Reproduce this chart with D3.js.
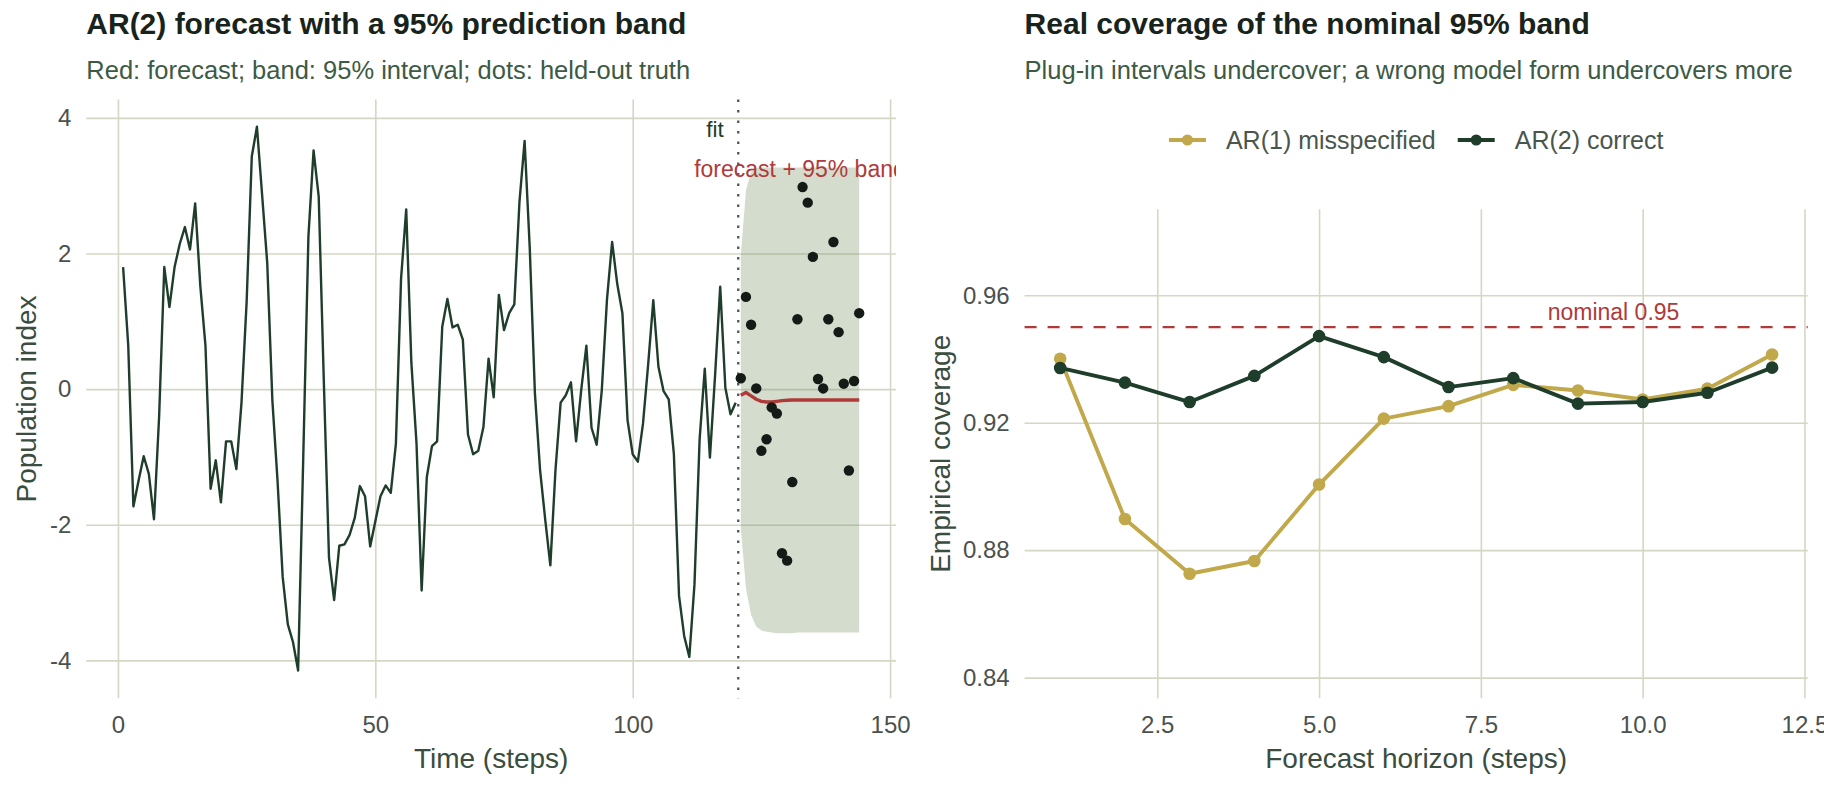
<!DOCTYPE html>
<html>
<head>
<meta charset="utf-8">
<script src="https://cdn.jsdelivr.net/npm/d3@7"></script>
<style>
  body { margin: 0; background: #ffffff; }
  svg text { font-family: "Liberation Sans", Arial, Helvetica, sans-serif; }
</style>
</head>
<body>
<svg id="chart" width="1824" height="787"></svg>
<script>
// observed series, steps 1..120
var seriesValues = [
   1.80,  0.64, -1.73, -1.35, -0.99, -1.25, -1.92, -0.40,  1.80,  1.21,
   1.80,  2.14,  2.39,  2.06,  2.74,  1.52,  0.64, -1.47, -1.05, -1.67,
  -0.77, -0.77, -1.18, -0.20,  1.29,  3.43,  3.87,  2.87,  1.86, -0.17,
  -1.35, -2.77, -3.47, -3.73, -4.15, -1.00,  2.25,  3.52,  2.84,  0.10,
  -2.49, -3.11, -2.31, -2.29, -2.15, -1.90, -1.43, -1.58, -2.32, -1.95,
  -1.58, -1.42, -1.53, -0.80,  1.63,  2.65,  0.39, -0.80, -2.97, -1.30,
  -0.84, -0.77,  0.92,  1.33,  0.91,  0.95,  0.73, -0.67, -0.96, -0.91,
  -0.56,  0.45, -0.12,  1.39,  0.87,  1.12,  1.25,  2.76,  3.66,  2.08,
  -0.06, -1.19, -1.92, -2.60, -1.19, -0.20, -0.09,  0.10, -0.77, -0.01,
   0.64, -0.57, -0.82, -0.01,  1.32,  2.17,  1.55,  1.12, -0.46, -0.96,
  -1.07, -0.51,  0.36,  1.31,  0.33, -0.03, -0.15, -0.96, -3.05, -3.64,
  -3.95, -2.88, -0.74,  0.30, -1.01,  0.20,  1.51,  0.02, -0.37, -0.20
];
var firstStep = 1;
var fitEnd = 120;

// forecast, band and held-out truth, steps 121..144
var forecastValues = [
  -0.09, -0.05, -0.10, -0.15, -0.18, -0.19, -0.19, -0.18, -0.17, -0.165,
  -0.16, -0.16, -0.16, -0.16, -0.16, -0.16, -0.16, -0.16, -0.16, -0.16,
  -0.16, -0.16, -0.16, -0.16
];
var bandUpper = [
   1.97,  2.93,  3.21,  3.26,  3.27,  3.27,  3.27,  3.27,  3.27,  3.27,
   3.27,  3.27,  3.27,  3.27,  3.27,  3.27,  3.27,  3.27,  3.27,  3.27,
   3.27,  3.27,  3.27,  3.27
];
var bandLower = [
  -2.04, -2.94, -3.33, -3.50, -3.56, -3.58, -3.59, -3.60, -3.60, -3.60,
  -3.60, -3.59, -3.59, -3.59, -3.59, -3.59, -3.59, -3.59, -3.59, -3.59,
  -3.59, -3.59, -3.59, -3.59
];
var heldOut = [
   0.16,  1.36,  0.95,  0.01, -0.91, -0.74, -0.27, -0.36, -2.42, -2.53,
  -1.37,  1.03,  2.98,  2.75,  1.95,  0.15,  0.01,  1.03,  2.17,  0.84,
   0.08, -1.20,  0.12,  1.12
];

// coverage by horizon
var horizons = [1, 2, 3, 4, 5, 6, 7, 8, 9, 10, 11, 12];
var coverAR1 = [0.9401, 0.8898, 0.8726, 0.8766, 0.9006, 0.9213, 0.9252, 0.9319, 0.9301, 0.9273, 0.9307, 0.9414];
var coverAR2 = [0.9372, 0.9326, 0.9265, 0.9347, 0.9472, 0.9406, 0.9312, 0.9340, 0.9260, 0.9265, 0.9294, 0.9373];
var nominal = 0.95;
var seriesNames = ["AR(1) misspecified", "AR(2) correct"];

var leftXTicks = [0, 50, 100, 150];
var leftYTicks = [-4, -2, 0, 2, 4];
var rightXTicks = [2.5, 5.0, 7.5, 10.0, 12.5];
var rightYTicks = [0.84, 0.88, 0.92, 0.96];

var gridColor = "#d6d6c5";
var darkGreen = "#1f3d2b";
var mustard = "#c1a84b";
var red = "#b03a3a";

window.onload = function(){
    let svg = d3.select("#chart");
    drawLeft(svg);
    drawRight(svg);
};

// plain hyphen for negatives, like the original
function plain(d){
    return "" + d;
}

function addTitles(svg, x, title, subtitle){
    svg.append("text").attr("x", x).attr("y", 34)
        .attr("font-size", 30).attr("font-weight", "bold").attr("fill", "#17231b")
        .text(title);
    svg.append("text").attr("x", x).attr("y", 79)
        .attr("font-size", 25.5).attr("fill", "#3d5a44")
        .text(subtitle);
}

function styleAxis(g){
    g.select(".domain").remove();
    g.selectAll(".tick line").attr("stroke", gridColor).attr("stroke-width", 1.6);
    g.selectAll(".tick text").attr("fill", "#4b514c").attr("font-size", 24)
        .attr("font-family", null);
}

function drawLeft(svg){
    let left = 86.3, right = 896, top = 99.6, bottom = 698.3;

    let xScale = d3.scaleLinear().domain([-6.15, 151.15]).range([left, right]);
    let yScale = d3.scaleLinear().domain([-4.56, 4.27]).range([bottom, top]);

    addTitles(svg, left, "AR(2) forecast with a 95% prediction band",
        "Red: forecast; band: 95% interval; dots: held-out truth");

    // grid + tick labels
    svg.append("g").attr("transform", "translate(0," + bottom + ")")
        .call(d3.axisBottom(xScale).tickValues(leftXTicks).tickFormat(plain)
            .tickSize(-(bottom - top)).tickPadding(18))
        .call(styleAxis);
    svg.append("g").attr("transform", "translate(" + left + ",0)")
        .call(d3.axisLeft(yScale).tickValues(leftYTicks).tickFormat(plain)
            .tickSize(-(right - left)).tickPadding(15))
        .call(styleAxis);

    let fcSteps = forecastValues.map(function(d, i){ return fitEnd + 1 + i; });

    // prediction band
    let area = d3.area()
        .x(function(d, i){ return xScale(fcSteps[i]); })
        .y0(function(d, i){ return yScale(bandLower[i]); })
        .y1(function(d, i){ return yScale(bandUpper[i]); });
    svg.append("path").datum(bandUpper)
        .attr("d", area).attr("fill", "#6c8a58").attr("fill-opacity", 0.3);

    // split marker
    svg.append("line")
        .attr("x1", xScale(fitEnd + 0.5)).attr("x2", xScale(fitEnd + 0.5))
        .attr("y1", top).attr("y2", bottom)
        .attr("stroke", "#5a5a5a").attr("stroke-width", 2.4)
        .attr("stroke-dasharray", "2.4,8.1");

    let line = d3.line()
        .x(function(d){ return xScale(d[0]); })
        .y(function(d){ return yScale(d[1]); });

    let obs = seriesValues.map(function(v, i){ return [firstStep + i, v]; });
    svg.append("path").datum(obs).attr("d", line)
        .attr("fill", "none").attr("stroke", darkGreen).attr("stroke-width", 2.4)
        .attr("stroke-linejoin", "round");

    let fc = forecastValues.map(function(v, i){ return [fcSteps[i], v]; });
    svg.append("path").datum(fc).attr("d", line)
        .attr("fill", "none").attr("stroke", red).attr("stroke-width", 3.4)
        .attr("stroke-linejoin", "round");

    svg.append("g").selectAll("circle").data(heldOut)
        .enter()
        .append("circle")
        .attr("cx", function(d, i){ return xScale(fcSteps[i]); })
        .attr("cy", function(d){ return yScale(d); })
        .attr("r", 5.2)
        .attr("fill", "#141a16");

    // labels, clipped to the panel like ggplot does
    svg.append("clipPath").attr("id", "leftClip")
        .append("rect").attr("x", left).attr("y", top)
        .attr("width", right - left).attr("height", bottom - top);
    let lab = svg.append("g").attr("clip-path", "url(#leftClip)");
    lab.append("text").attr("x", xScale(116)).attr("y", yScale(3.84)).attr("dy", "0.35em")
        .attr("text-anchor", "middle").attr("font-size", 22.5).attr("fill", darkGreen)
        .text("fit");
    lab.append("text").attr("x", xScale(132.5)).attr("y", yScale(3.25)).attr("dy", "0.35em")
        .attr("text-anchor", "middle").attr("font-size", 23).attr("fill", red)
        .text("forecast + 95% band");

    svg.append("text").attr("transform", "translate(36," + (top + bottom) / 2 + ") rotate(-90)")
        .attr("text-anchor", "middle").attr("font-size", 28).attr("fill", "#3a4d3e")
        .text("Population index");
    svg.append("text").attr("x", (left + right) / 2).attr("y", 768)
        .attr("text-anchor", "middle").attr("font-size", 28).attr("fill", "#3a4d3e")
        .text("Time (steps)");
}

function drawRight(svg){
    let left = 1024.6, right = 1807.7, top = 209.3, bottom = 698.3;

    let xScale = d3.scaleLinear().domain([0.45, 12.55]).range([left, right]);
    let yScale = d3.scaleLinear().domain([0.8335, 0.987]).range([bottom, top]);

    addTitles(svg, left, "Real coverage of the nominal 95% band",
        "Plug-in intervals undercover; a wrong model form undercovers more");

    svg.append("g").attr("transform", "translate(0," + bottom + ")")
        .call(d3.axisBottom(xScale).tickValues(rightXTicks).tickFormat(d3.format(".1f"))
            .tickSize(-(bottom - top)).tickPadding(18))
        .call(styleAxis);
    svg.append("g").attr("transform", "translate(" + left + ",0)")
        .call(d3.axisLeft(yScale).tickValues(rightYTicks).tickFormat(d3.format(".2f"))
            .tickSize(-(right - left)).tickPadding(15))
        .call(styleAxis);

    // nominal level
    svg.append("line")
        .attr("x1", left).attr("x2", right)
        .attr("y1", yScale(nominal)).attr("y2", yScale(nominal))
        .attr("stroke", red).attr("stroke-width", 2.4).attr("stroke-dasharray", "12,11");
    svg.append("text").attr("x", xScale(9.55)).attr("y", yScale(nominal) - 7.5)
        .attr("text-anchor", "middle").attr("font-size", 23).attr("fill", red)
        .text("nominal 0.95");

    let series = [
        {name: seriesNames[0], values: coverAR1, color: mustard},
        {name: seriesNames[1], values: coverAR2, color: darkGreen}
    ];

    let line = d3.line()
        .x(function(d, i){ return xScale(horizons[i]); })
        .y(function(d){ return yScale(d); });

    series.forEach(function(s){
        svg.append("path").datum(s.values).attr("d", line)
            .attr("fill", "none").attr("stroke", s.color).attr("stroke-width", 3.9)
            .attr("stroke-linejoin", "round");
        svg.append("g").selectAll("circle").data(s.values)
            .enter()
            .append("circle")
            .attr("cx", function(d, i){ return xScale(horizons[i]); })
            .attr("cy", function(d){ return yScale(d); })
            .attr("r", 6.3)
            .attr("fill", s.color);
    });

    // legend centred over the panel
    let legend = svg.append("g");
    let x = 0;
    series.forEach(function(s, i){
        let item = legend.append("g").attr("transform", "translate(" + x + ",0)");
        item.append("line").attr("x1", 0).attr("x2", 37).attr("y1", 0).attr("y2", 0)
            .attr("stroke", s.color).attr("stroke-width", 3.9);
        item.append("circle").attr("cx", 18.5).attr("cy", 0).attr("r", 5.6).attr("fill", s.color);
        let t = item.append("text").attr("x", 57).attr("dy", "0.35em")
            .attr("font-size", 25).attr("fill", "#4a564c").text(s.name);
        x += 57 + t.node().getComputedTextLength() + 22;
    });
    let legendWidth = x - 22;
    legend.attr("transform", "translate(" + ((left + right) / 2 - legendWidth / 2) + ",140)");

    svg.append("text").attr("transform", "translate(950," + (top + bottom) / 2 + ") rotate(-90)")
        .attr("text-anchor", "middle").attr("font-size", 28).attr("fill", "#3a4d3e")
        .text("Empirical coverage");
    svg.append("text").attr("x", (left + right) / 2).attr("y", 768)
        .attr("text-anchor", "middle").attr("font-size", 28).attr("fill", "#3a4d3e")
        .text("Forecast horizon (steps)");
}
</script>
</body>
</html>
